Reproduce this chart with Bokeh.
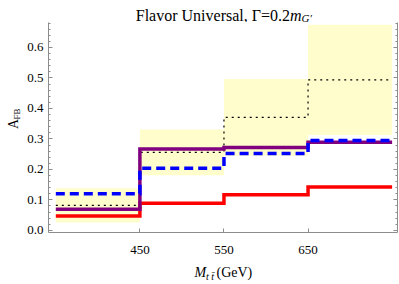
from bokeh.plotting import figure
from bokeh.layouts import column, row
from bokeh.models import (LinearAxis, FixedTicker, SingleIntervalTicker,
                          NumeralTickFormatter, CustomJSTickFormatter, Range1d)
from bokeh.core.properties import value
from bokeh.embed import file_html
from bokeh.resources import INLINE
import math

# ---- data ----
bin_edges = [350, 450, 550, 650, 750]
data_center = [0.082, 0.256, 0.371, 0.494]
data_err = [0.056, 0.075, 0.126, 0.181]
afb_purple = [0.069, 0.267, 0.272, 0.289]
afb_blue = [0.120, 0.204, 0.252, 0.295]
afb_red = [0.047, 0.089, 0.117, 0.142]
x_ticks = [450, 550, 650]
title_text = "Flavor Universal, \u0393=0.2"
title_m = "m"
title_sub = "G\u2032"
xlab_main = "M"
xlab_sub = "t t\u0304"
xlab_unit = "(GeV)"
ylab_main = "A"
ylab_sub = "FB"

FONT = "Liberation Serif"
AXIS_GRAY = "#8c8c8c"

W, H = 399, 284
W_L = 22          # strip holding the y label
H_T = 22          # strip holding the title
H_X = 24          # strip holding the x label
H_M = H - H_T - H_X


def text_strip(w, h):
    f = figure(width=w, height=h, x_range=Range1d(0, w), y_range=Range1d(0, h),
               output_backend="svg", toolbar_location=None, title=None,
               x_axis_location=None, y_axis_location=None, min_border=0)
    f.outline_line_color = None
    f.xgrid.visible = False
    f.ygrid.visible = False
    f.background_fill_color = "white"
    f.border_fill_color = "white"
    return f


def put(f, x, y, text, size, italic=False, align="left", angle=0.0):
    f.text(x=[x], y=[y], text=[text], text_font=value(FONT),
           text_font_size=size, text_font_style="italic" if italic else "normal",
           text_align=align, text_baseline="alphabetic", text_color="black",
           angle=angle)


# ---- main plot ----
p = figure(width=W - W_L, height=H_M, x_range=Range1d(341.3, 756.4),
           y_range=Range1d(-0.007, 0.682), output_backend="svg",
           toolbar_location=None, title=None,
           min_border_left=26, min_border_right=2, min_border_top=0,
           min_border_bottom=28)
p.outline_line_color = None
p.xgrid.visible = False
p.ygrid.visible = False
p.background_fill_color = "white"
p.border_fill_color = "white"

lo = [c - e for c, e in zip(data_center, data_err)]
hi = [c + e for c, e in zip(data_center, data_err)]
p.quad(left=bin_edges[:-1], right=bin_edges[1:], bottom=lo, top=hi,
       fill_color="#FFFDCC", line_color=None)


def stepped(vals):
    return vals + [vals[-1]]


p.step(x=bin_edges, y=stepped(data_center), mode="after", line_color="black",
       line_width=1.2, line_dash="2 4")
p.step(x=bin_edges, y=stepped(afb_red), mode="after", line_color="#FF0000",
       line_width=3.5, line_join="miter")
p.step(x=bin_edges, y=stepped(afb_purple), mode="after", line_color="#800080",
       line_width=3.5, line_join="miter")
p.step(x=bin_edges, y=stepped(afb_blue), mode="after", line_color="#0000FF",
       line_width=3.5, line_dash="9 5", line_join="miter")

for ax in (p.xaxis[0], p.yaxis[0]):
    ax.axis_line_color = AXIS_GRAY
    ax.major_tick_line_color = AXIS_GRAY
    ax.minor_tick_line_color = AXIS_GRAY
    ax.major_tick_in = 4
    ax.major_tick_out = 0
    ax.minor_tick_in = 2
    ax.minor_tick_out = 0
    ax.major_label_text_font = FONT
    ax.major_label_text_font_size = "13px"
    ax.major_label_text_color = "black"

p.xaxis.ticker = FixedTicker(ticks=x_ticks)
p.xaxis.minor_tick_line_color = None
p.xaxis.major_label_standoff = 13
p.yaxis.ticker = SingleIntervalTicker(interval=0.1, num_minor_ticks=5)
p.yaxis.formatter = NumeralTickFormatter(format="0.0")
p.yaxis.major_label_standoff = 5

right = LinearAxis(ticker=SingleIntervalTicker(interval=0.1, num_minor_ticks=5),
                   formatter=CustomJSTickFormatter(code="return ''"))
right.axis_line_color = AXIS_GRAY
right.major_tick_line_color = AXIS_GRAY
right.minor_tick_line_color = AXIS_GRAY
right.major_tick_in = 4
right.major_tick_out = 0
right.minor_tick_in = 2
right.minor_tick_out = 0
right.major_label_standoff = 0
p.add_layout(right, "right")

# ---- title strip ----
t = text_strip(W, H_T)
put(t, 289.5, 7, title_text, "16px", align="right")
put(t, 289.5, 7, title_m, "16px", italic=True)
put(t, 301, 5, title_sub, "11px", italic=True)

# ---- y-label strip ----
yl = text_strip(W_L, H_M)
put(yl, 13, 123, ylab_main, "14px", align="center", angle=math.pi / 2)
put(yl, 16, 128, ylab_sub, "9px", angle=math.pi / 2)

# ---- x-label strip ----
xl = text_strip(W, H_X)
put(xl, 194, 12, xlab_main, "14px", italic=True)
put(xl, 205.5, 8.5, xlab_sub, "10px", italic=True)
put(xl, 216, 12, xlab_unit, "14px")

layout = column(t, row(yl, p, spacing=0), xl, spacing=0)

open("out.html", "w").write(file_html(layout, INLINE))
